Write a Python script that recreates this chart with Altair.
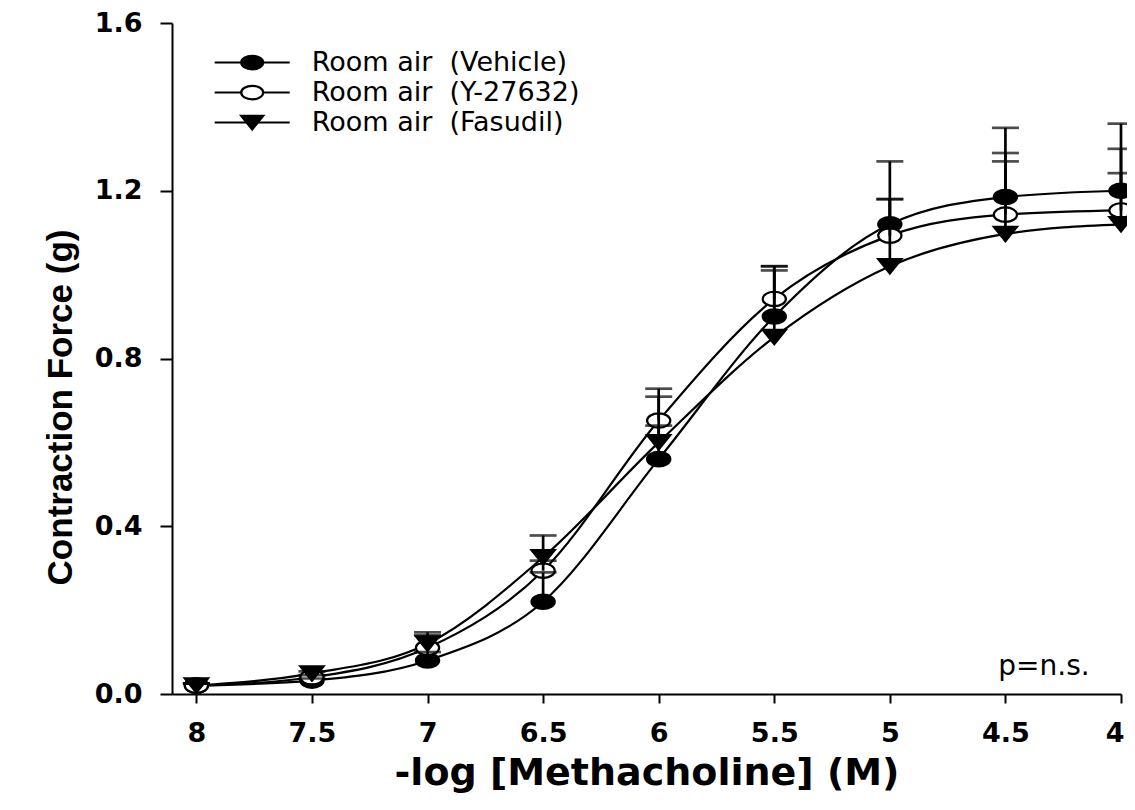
import altair as alt
import pandas as pd

# ---------------- data ----------------
doses = [8, 7.5, 7, 6.5, 6, 5.5, 5, 4.5, 4]
series_names = ["Room air\u00a0 (Vehicle)", "Room air\u00a0 (Y-27632)", "Room air\u00a0 (Fasudil)"]

vehicle_mean = [0.02, 0.032, 0.08, 0.22, 0.56, 0.90, 1.12, 1.185, 1.20]
vehicle_top = [0.025, 0.037, 0.10, 0.29, 0.64, 1.02, 1.27, 1.35, 1.36]
y27632_mean = [0.02, 0.04, 0.11, 0.294, 0.652, 0.942, 1.093, 1.143, 1.153]
y27632_top = [0.025, 0.045, 0.14, 0.318, 0.728, 1.02, 1.18, 1.29, 1.30]
fasudil_mean = [0.02, 0.049, 0.12, 0.326, 0.60, 0.851, 1.02, 1.097, 1.12]
fasudil_top = [0.025, 0.054, 0.147, 0.378, 0.709, 1.01, 1.18, 1.27, 1.242]

x_ticks = [8, 7.5, 7, 6.5, 6, 5.5, 5, 4.5, 4]
y_ticks = [0.0, 0.4, 0.8, 1.2, 1.6]

means = [vehicle_mean, y27632_mean, fasudil_mean]
tops = [vehicle_top, y27632_top, fasudil_top]

rows = []
for name, m, t in zip(series_names, means, tops):
    for d, mv, tv in zip(doses, m, t):
        rows.append({"series": name, "dose": d, "mean": mv, "top": tv})
df = pd.DataFrame(rows)

# ---------------- styling ----------------
ELLIPSE = "M-1,0A1,0.62,0,1,1,1,0A1,0.62,0,1,1,-1,0Z"
TRIANGLE = "M-1,-0.62L1,-0.62L0,0.62Z"
shapes = [ELLIPSE, ELLIPSE, TRIANGLE]
fills = ["black", "white", "black"]

W, H = 949, 671

xscale = alt.Scale(domain=[8.1055, 4], nice=False, zero=False)
yscale = alt.Scale(domain=[0, 1.6], nice=False, zero=True)

X = alt.X("dose:Q", scale=xscale,
          axis=alt.Axis(values=x_ticks, format="~g", title="-log [Methacholine] (M)",
                        tickSize=9, labelPadding=17, titlePadding=8,
                        labelFontSize=27, titleFontSize=38,
                        labelFlush=True, labelFlushOffset=3))
Y = alt.Y("mean:Q", scale=yscale,
          axis=alt.Axis(values=y_ticks, format=".1f", title="Contraction Force (g)",
                        tickSize=12, labelPadding=18, titlePadding=16,
                        labelFontSize=27, titleFontSize=35,
                        titleFont="Liberation Sans", titleY=384))

base = alt.Chart(df)

lines = base.mark_line(color="black", strokeWidth=2.2, interpolate="monotone").encode(
    x=X, y=Y, detail="series:N")

markers = base.mark_point(size=540, opacity=1, stroke="black", strokeWidth=2.2).encode(
    x="dose:Q", y="mean:Q",
    shape=alt.Shape("series:N", scale=alt.Scale(domain=series_names, range=shapes), legend=None),
    fill=alt.Fill("series:N", scale=alt.Scale(domain=series_names, range=fills), legend=None),
)

err = base.mark_rule(color="black", strokeWidth=2.7).encode(
    x="dose:Q", y="mean:Q", y2="top:Q")

caps = base.mark_tick(color="black", orient="horizontal", size=27, thickness=2.7).encode(
    x="dose:Q", y="top:Q")

# ---------------- legend (drawn in pixel layout space) ----------------
legend_layers = []
for i, name in enumerate(series_names):
    ly = 39.6 + 30 * i
    ldf = pd.DataFrame({"label": [name]})
    legend_layers.append(
        alt.Chart(ldf).mark_rule(color="black", strokeWidth=2).encode(
            x=alt.value(42.7), x2=alt.value(117.7), y=alt.value(ly)))
    legend_layers.append(
        alt.Chart(ldf).mark_point(shape=shapes[i], size=480, fill=fills[i], stroke="black",
                                  strokeWidth=2.2, opacity=1).encode(
            x=alt.value(80.2), y=alt.value(ly)))
    legend_layers.append(
        alt.Chart(ldf).mark_text(align="left", baseline="middle", font="DejaVu Sans",
                                 fontSize=27, color="black").encode(
            x=alt.value(139.7), y=alt.value(ly), text="label:N"))

pns = alt.Chart(pd.DataFrame({"t": ["p=n.s."]})).mark_text(
    align="right", baseline="alphabetic", font="DejaVu Sans", fontSize=28, color="black"
).encode(x=alt.value(917.7), y=alt.value(652.3), text="t:N")

chart = alt.layer(lines, markers, err, caps, pns, *legend_layers).properties(
    width=W, height=H,
    autosize=alt.AutoSizeParams(type="none"),
    padding={"left": 164, "top": 15, "right": 6, "bottom": 104},
).configure_view(stroke=None).configure_axis(
    grid=False, domainColor="black", domainWidth=2, tickColor="black", tickWidth=2,
    labelColor="black", titleColor="black", labelFont="DejaVu Sans", labelFontWeight="bold",
    titleFont="DejaVu Sans", titleFontWeight="bold",
).configure_axisY(labelFlush=False)

chart.save("out.html", embed_options={"renderer": "svg", "actions": False})
